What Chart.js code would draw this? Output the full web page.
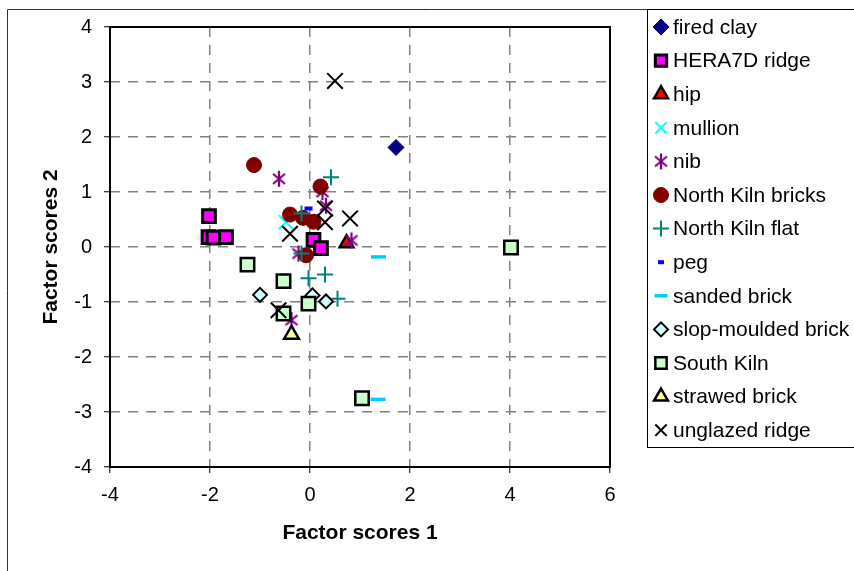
<!DOCTYPE html>
<html lang="en">
<head>
    <meta charset="UTF-8">
    <title>Factor scores</title>
    <style>
        * { margin: 0; padding: 0; box-sizing: border-box; }
        body { background: white; font-family: 'Liberation Sans', Arial, sans-serif; }
        #wrap { width: 854px; height: 571px; }
    </style>
    <script src="https://cdn.jsdelivr.net/npm/chart.js"></script>
</head>
<body>
    <div id="wrap"><canvas id="scoreChart" width="854" height="571"></canvas></div>
    <script>
        // factor scores, [score 1, score 2]
        const seriesNames = ['fired clay', 'HERA7D ridge', 'hip', 'mullion', 'nib', 'North Kiln bricks',
            'North Kiln flat', 'peg', 'sanded brick', 'slop-moulded brick', 'South Kiln', 'strawed brick', 'unglazed ridge'];
        const firedClay = [[1.72, 1.81]];
        const hera7dRidge = [[-2.02, 0.56], [-2.03, 0.18], [-1.93, 0.17], [-1.68, 0.18], [0.07, 0.13], [0.22, -0.02]];
        const hip = [[0.73, 0.07]];
        const mullion = [[-0.48, 0.45]];
        const nib = [[-0.62, 1.24], [0.25, 1.0], [0.32, 0.75], [0.83, 0.12], [-0.23, -0.12], [-0.37, -1.33]];
        const northKilnBricks = [[-1.12, 1.49], [0.21, 1.10], [-0.4, 0.59], [-0.14, 0.53], [0.07, 0.46], [-0.08, -0.15]];
        const northKilnFlat = [[0.42, 1.27], [-0.17, 0.61], [-0.17, -0.12], [-0.03, -0.57], [0.3, -0.5], [0.55, -0.94]];
        const peg = [[-0.03, 0.70]];
        const sandedBrick = [[1.37, -0.18], [1.36, -2.77]];
        const slopMoulded = [[-1.0, -0.87], [0.05, -0.88], [0.32, -0.99]];
        const southKiln = [[-1.25, -0.32], [-0.53, -0.62], [-0.03, -1.03], [-0.53, -1.21], [4.02, -0.01], [1.04, -2.75]];
        const strawedBrick = [[-0.37, -1.59]];
        const unglazedRidge = [[0.5, 3.02], [0.3, 0.7], [0.3, 0.45], [0.8, 0.52], [-0.4, 0.24], [-0.63, -1.15]];

        const xTicks = [-4, -2, 0, 2, 4, 6];
        const yTicks = [-4, -3, -2, -1, 0, 1, 2, 3, 4];

        const FONT = "'Liberation Sans', Arial, sans-serif";

        // asterisk marker for nib (X with a vertical bar)
        function asterisk(color) {
            const c = document.createElement('canvas');
            c.width = 18; c.height = 18;
            const g = c.getContext('2d');
            g.strokeStyle = color; g.lineWidth = 2.2;
            g.beginPath();
            g.moveTo(3, 4); g.lineTo(15, 14);
            g.moveTo(15, 4); g.lineTo(3, 14);
            g.moveTo(9, 1); g.lineTo(9, 17);
            g.stroke();
            return c;
        }

        const styles = [
            { style: 'rectRot', r: 8, fill: '#000080', line: '#000080', bw: 1 },
            { style: 'rect', r: 9, fill: '#FF00FF', line: '#000000', bw: 3 },
            { style: 'triangle', r: 8, fill: '#FF0000', line: '#000000', bw: 2.5 },
            { style: 'crossRot', r: 10, fill: '#00FFFF', line: '#00FFFF', bw: 2 },
            { style: asterisk('#800080'), r: 9, fill: '#800080', line: '#800080', bw: 2 },
            { style: 'circle', r: 7.5, fill: '#800000', line: '#800000', bw: 1 },
            { style: 'cross', r: 8, fill: '#008080', line: '#008080', bw: 2 },
            { style: 'line', r: 4, fill: '#0000FF', line: '#0000FF', bw: 4 },
            { style: 'line', r: 7.5, fill: '#00CCFF', line: '#00CCFF', bw: 3.5 },
            { style: 'rectRot', r: 7, fill: '#CCFFFF', line: '#000000', bw: 2 },
            { style: 'rect', r: 9.5, fill: '#CCFFCC', line: '#000000', bw: 2.5 },
            { style: 'triangle', r: 8.5, fill: '#FFFF99', line: '#000000', bw: 2.5 },
            { style: 'crossRot', r: 11, fill: '#000000', line: '#000000', bw: 2 }
        ];

        const seriesData = [firedClay, hera7dRidge, hip, mullion, nib, northKilnBricks, northKilnFlat,
            peg, sandedBrick, slopMoulded, southKiln, strawedBrick, unglazedRidge];

        const datasets = seriesNames.map((name, i) => ({
            label: name,
            data: seriesData[i].map(p => ({ x: p[0], y: p[1] })),
            pointStyle: styles[i].style,
            pointRadius: styles[i].r,
            pointHoverRadius: styles[i].r,
            backgroundColor: styles[i].fill,
            borderColor: styles[i].line,
            pointBorderWidth: styles[i].bw,
            order: -i
        }));

        // plot frame, outer border and the boxed legend
        const framePlugin = {
            id: 'frame',
            beforeDatasetsDraw(chart) {
                const a = chart.chartArea, ctx = chart.ctx;
                ctx.save();
                ctx.strokeStyle = '#000';
                ctx.lineWidth = 2;
                ctx.strokeRect(a.left, a.top, a.right - a.left, a.bottom - a.top);
                ctx.restore();
            },
            afterDraw(chart) {
                const ctx = chart.ctx;
                ctx.save();
                ctx.strokeStyle = '#333';
                ctx.lineWidth = 1;
                ctx.beginPath();
                ctx.moveTo(7.5, 571); ctx.lineTo(7.5, 9.5); ctx.lineTo(854, 9.5);
                ctx.stroke();
                ctx.strokeStyle = '#000';
                ctx.strokeRect(647.5, 9.5, 220, 438);
                ctx.font = '21px ' + FONT;
                ctx.textBaseline = 'middle';
                ctx.fillStyle = '#000';
                seriesNames.forEach((name, i) => {
                    const y = 27 + i * 33.6;
                    const s = styles[i];
                    ctx.save();
                    ctx.fillStyle = s.fill;
                    ctx.strokeStyle = s.line;
                    ctx.lineWidth = s.bw;
                    let r = Math.min(s.r, 8);
                    if (s.style === 'line') r = i === 7 ? 3 : 6.5;
                    Chart.helpers.drawPoint(ctx, { pointStyle: s.style, rotation: 0, radius: r, borderWidth: s.bw }, 661, y);
                    ctx.restore();
                    ctx.fillText(name, 673, y + 1);
                });
                ctx.restore();
            }
        };

        new Chart(document.getElementById('scoreChart'), {
            type: 'scatter',
            data: { datasets },
            plugins: [framePlugin],
            options: {
                responsive: false,
                animation: false,
                events: [],
                layout: { padding: { left: 0, top: 27, right: 244, bottom: 0 } },
                plugins: { legend: { display: false }, tooltip: { enabled: false } },
                scales: {
                    x: {
                        type: 'linear', min: -4, max: 6,
                        afterBuildTicks: s => { s.ticks = xTicks.map(v => ({ value: v })); },
                        afterFit: s => { s.height = 104; },
                        ticks: { color: '#000', font: { family: FONT, size: 20 }, padding: 10.5 },
                        grid: { color: '#808080', lineWidth: 1.5, tickLength: 6, tickColor: '#000', tickWidth: 1, tickBorderDash: [0, 0] },
                        border: { display: false, dash: [10, 8] },
                        title: { display: true, text: 'Factor scores 1', color: '#000',
                            font: { family: FONT, size: 21, weight: 'bold' }, padding: { top: 0, bottom: 25.5 } }
                    },
                    y: {
                        type: 'linear', min: -4, max: 4,
                        afterBuildTicks: s => { s.ticks = yTicks.map(v => ({ value: v })); },
                        afterFit: s => { s.width = 110; },
                        ticks: { color: '#000', font: { family: FONT, size: 20 }, padding: 12 },
                        grid: { color: '#808080', lineWidth: 1.5, tickLength: 6, tickColor: '#000', tickWidth: 1, tickBorderDash: [0, 0] },
                        border: { display: false, dash: [10, 8] },
                        title: { display: true, text: 'Factor scores 2', color: '#000',
                            font: { family: FONT, size: 21, weight: 'bold' }, padding: { top: 38.4, bottom: 0 } }
                    }
                }
            }
        });
    </script>
</body>
</html>
